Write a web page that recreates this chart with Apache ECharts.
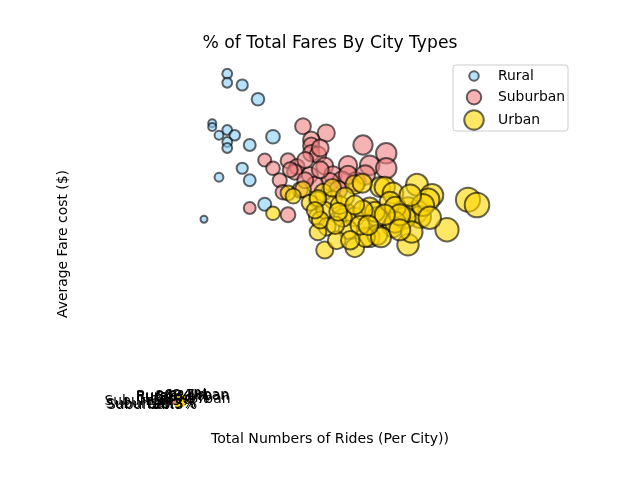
<!DOCTYPE html>
<html><head><meta charset="utf-8">
<script src="https://cdn.jsdelivr.net/npm/echarts@6/dist/echarts.min.js"></script>
<style>html,body{margin:0;padding:0;background:#fff}#main{width:640px;height:480px}</style>
</head><body><div id="main"></div>
<script>
const cityTypes = ['Rural', 'Suburban', 'Urban'];
const typeColors = ['#87CEFA', '#F08080', '#FFD700'];

const ruralRides = [6.3, 6.3, 8.3, 10.4, 4.3, 4.3, 5.2, 6.3, 7.3, 6.3, 6.3, 9.3, 12.4, 8.3, 9.3, 5.2, 11.3, 3.2];
const ruralFares = [43.5, 42.3, 42.0, 40.1, 36.9, 36.4, 35.3, 36.0, 35.3, 34.4, 33.6, 34.0, 35.1, 30.9, 29.3, 29.7, 26.1, 24.1];

const suburbanRides = [16.4, 19.5, 17.5, 17.5, 17.5, 24.4, 27.5, 11.3, 12.4, 14.4, 15.6, 18.4, 19.3, 22.4, 25.3, 27.5, 13.3, 15.3,
  17.3, 20.4, 21.6, 23.5, 16.0, 9.3, 14.4, 18.7, 16.7, 14.7, 20.0, 18.0, 22.4, 16.7, 13.7, 24.7, 21.1, 18.7];
const suburbanFares = [36.5, 35.6, 34.7, 33.9, 32.9, 34.0, 32.9, 32.0, 30.9, 31.9, 31.1, 32.7, 31.2, 31.3, 31.3, 30.9, 29.3, 30.4,
  30.0, 30.0, 29.3, 29.1, 28.0, 25.6, 24.7, 33.6, 32.0, 30.7, 29.1, 28.7, 30.0, 29.3, 27.7, 30.0, 28.0, 30.7];

const urbanRides = [16.4, 14.4, 12.4, 19.1, 20.4, 18.3, 17.3, 23.3, 26.7, 18.3, 19.3, 22.3, 23.3, 25.3, 26.3, 19.6, 18.4, 22.4,
  25.3, 23.3, 19.3, 20.9, 21.7, 31.6, 27.3, 28.4, 33.6, 38.4, 39.6, 31.6, 30.4, 32.0, 35.6, 28.4, 26.3, 30.4,
  26.0, 28.0, 30.0, 33.1, 28.7, 24.4, 28.7, 24.7, 26.8, 30.9, 18.4, 20.3, 15.1, 21.3, 22.0, 24.3, 18.7, 20.7,
  24.0, 29.3, 32.4, 30.7, 27.3, 22.7, 25.1, 18.0, 21.1, 29.3, 33.3, 23.3];
const urbanFares = [28.1, 27.6, 24.9, 27.7, 26.7, 26.7, 26.3, 28.7, 28.4, 24.4, 25.3, 24.9, 24.4, 25.7, 24.4, 23.1, 22.4, 22.7,
  21.7, 20.3, 20.0, 21.3, 24.3, 28.7, 28.4, 27.6, 27.3, 26.7, 26.0, 25.1, 25.6, 24.4, 22.7, 23.1, 22.0, 20.7,
  25.1, 26.4, 24.3, 26.7, 25.7, 25.3, 23.7, 21.7, 21.7, 22.4, 26.9, 28.3, 27.2, 26.0, 27.1, 28.9, 24.0, 23.3,
  23.3, 24.7, 26.0, 27.3, 24.7, 21.3, 23.3, 25.3, 25.1, 22.7, 24.3, 26.0];

// % of total by city type (Rural, Suburban, Urban)
const fareShare = [6.8, 30.5, 62.7];
const rideShare = [5.3, 26.3, 68.4];
const driverShare = [2.6, 16.5, 80.9];

const X_MIN = -13.33, X_MAX = 52.8, Y_MIN = -3.6, Y_MAX = 45.6;
const FONT = 'DejaVu Sans';

const rides = [ruralRides, suburbanRides, urbanRides];
const fares = [ruralFares, suburbanFares, urbanFares];
const legendDiam = [9.5, 14.5, 19.5];
const legendRowY = [76, 97, 119];

function rgba(hex, a) {
  const n = parseInt(hex.slice(1), 16);
  return 'rgba(' + (n >> 16 & 255) + ',' + (n >> 8 & 255) + ',' + (n & 255) + ',' + a + ')';
}

const scatterSeries = cityTypes.map((name, k) => ({
  type: 'scatter',
  name: name,
  data: rides[k].map((r, i) => [r, fares[k][i]]),
  symbol: 'circle',
  symbolSize: v => 3.9 * Math.sqrt(v[0]),
  itemStyle: { color: rgba(typeColors[k], 0.75), borderColor: 'rgba(0,0,0,0.75)', borderWidth: 2 },
  emphasis: { disabled: true },
  z: 2 + k
}));

const legends = cityTypes.map((name, k) => ({
  data: [name],
  left: 473 - legendDiam[k] / 2,
  top: legendRowY[k] - Math.max(legendDiam[k], 16) / 2,
  orient: 'vertical',
  padding: 0,
  icon: 'circle',
  itemWidth: 38,
  itemHeight: legendDiam[k],
  selectedMode: false,
  z: 20,
  itemStyle: { color: rgba(typeColors[k], 0.75), borderColor: 'rgba(0,0,0,0.75)', borderWidth: 2 },
  textStyle: { fontSize: 13.9, fontFamily: FONT, color: '#000', lineHeight: 16 }
}));

const chart = echarts.init(document.getElementById('main'), null, { renderer: 'canvas' });
const option = {
  animation: false,
  backgroundColor: '#fff',
  grid: { left: 80, top: 58, width: 496, height: 369, containLabel: false },
  xAxis: { type: 'value', min: X_MIN, max: X_MAX, axisLine: { show: false }, axisTick: { show: false },
    axisLabel: { show: false }, splitLine: { show: false } },
  yAxis: { type: 'value', min: Y_MIN, max: Y_MAX, axisLine: { show: false }, axisTick: { show: false },
    axisLabel: { show: false }, splitLine: { show: false } },
  legend: legends,
  graphic: [
    { type: 'rect', shape: { x: 453, y: 65, width: 115, height: 66, r: 3 }, z: 10,
      style: { fill: 'rgba(255,255,255,0.8)', stroke: '#cccccc', lineWidth: 1 } },
    { type: 'text', x: 330, y: 44, z: 10,
      style: { text: '% of Total Fares By City Types', fontSize: 17.2, fontFamily: FONT, fill: '#000', align: 'center', verticalAlign: 'middle' } },
    { type: 'text', x: 330, y: 439, z: 10,
      style: { text: 'Total Numbers of Rides (Per City))', fontSize: 14.1, fontFamily: FONT, fill: '#000', align: 'center', verticalAlign: 'middle' } },
    { type: 'text', x: 63, y: 244, rotation: Math.PI / 2, z: 10,
      style: { text: 'Average Fare cost ($)', fontSize: 13.9, fontFamily: FONT, fill: '#000', align: 'center', verticalAlign: 'middle' } }
  ],
  series: scatterSeries
};
chart.setOption(option);

const c0 = chart.convertToPixel({ gridIndex: 0 }, [0, 0]);
const c1 = chart.convertToPixel({ gridIndex: 0 }, [1, 0]);
const pieR = c1[0] - c0[0];

const pieSeries = [];
[fareShare, rideShare, driverShare].forEach((share, p) => {
  const data = cityTypes.map((n, i) => ({ name: n, value: share[i], itemStyle: { color: typeColors[i] } }));
  pieSeries.push({
    type: 'pie', center: c0, radius: pieR, startAngle: 150, clockwise: false,
    avoidLabelOverlap: false, silent: true, legendHoverLink: false, z: 5,
    itemStyle: { borderWidth: 0 }, emphasis: { disabled: true },
    labelLayout: { hideOverlap: false },
    data: data,
    label: { show: true, position: 'outside', distanceToLabelLine: 1, fontSize: 13.9, fontFamily: FONT, color: '#000',
      formatter: '{b}' },
    labelLine: { show: false, length: 0, length2: 0 }
  });
  pieSeries.push({
    type: 'pie', center: c0, radius: pieR * 1.2, startAngle: 150, clockwise: false,
    avoidLabelOverlap: false, silent: true, legendHoverLink: false, z: 6,
    itemStyle: { borderWidth: 0, color: 'rgba(0,0,0,0)' }, emphasis: { disabled: true },
    labelLayout: { hideOverlap: false },
    data: share.map((v, i) => ({ name: cityTypes[i], value: v })),
    label: { show: true, position: 'inside', fontSize: 13.9, fontFamily: FONT, color: '#000', opacity: 1, overflow: 'none',
      formatter: pr => pr.value.toFixed(1) + '%' },
    labelLine: { show: false }
  });
});
chart.setOption({ series: scatterSeries.concat(pieSeries) });
</script>
</body></html>
